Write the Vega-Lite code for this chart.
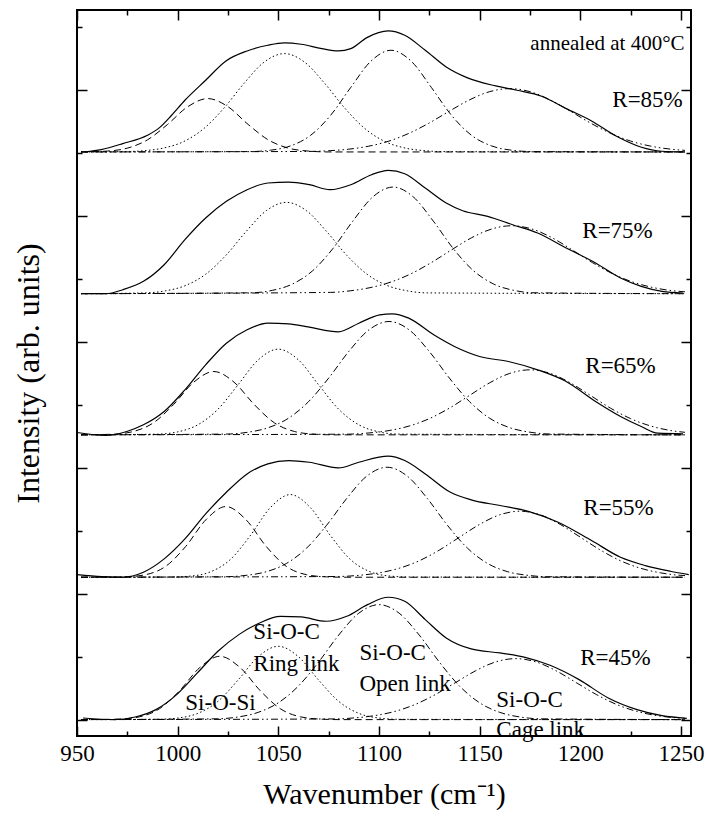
{
"$schema":"https://vega.github.io/schema/vega-lite/v6.json",
"width":614,"height":726,
"autosize":{"type":"none"},
"padding":{"left":77,"top":10,"right":20,"bottom":91},
"background":"white",
"config":{"view":{"stroke":"black","strokeWidth":2},"font":"Liberation Serif, Times New Roman, serif",
"axis":{"grid":false,"domain":false,"tickColor":"black","tickWidth":1.5,"labelFont":"Liberation Serif, Times New Roman, serif","titleFont":"Liberation Serif, Times New Roman, serif","labelColor":"black","titleColor":"black","titleFontWeight":"normal","labelFlush":false,"labelOverlap":false,"format":"d"}},
"datasets":{
"d":[
{"s":1,"c":"T","x":954,"y":90.1},{"s":1,"c":"T","x":962,"y":90.47},{"s":1,"c":"T","x":972.7,"y":91.42},{"s":1,"c":"T","x":985,"y":92.75},{"s":1,"c":"T","x":991,"y":93.96},{"s":1,"c":"T","x":997,"y":95.92},{"s":1,"c":"T","x":1003.6,"y":98.3},{"s":1,"c":"T","x":1013.9,"y":101.48},{"s":1,"c":"T","x":1024,"y":104.54},{"s":1,"c":"T","x":1034.5,"y":106.13},{"s":1,"c":"T","x":1044.8,"y":107.03},{"s":1,"c":"T","x":1053,"y":107.4},{"s":1,"c":"T","x":1061.3,"y":107.19},{"s":1,"c":"T","x":1071.6,"y":106.5},{"s":1,"c":"T","x":1079.8,"y":106.13},{"s":1,"c":"T","x":1086,"y":106.5},{"s":1,"c":"T","x":1094,"y":108.25},{"s":1,"c":"T","x":1104.6,"y":109.31},{"s":1,"c":"T","x":1112.8,"y":108.62},{"s":1,"c":"T","x":1123,"y":106.24},{"s":1,"c":"T","x":1133.4,"y":103.59},{"s":1,"c":"T","x":1143.7,"y":101.9},{"s":1,"c":"T","x":1158,"y":100.58},{"s":1,"c":"T","x":1168.5,"y":99.89},{"s":1,"c":"T","x":1180.8,"y":98.94},{"s":1,"c":"T","x":1193,"y":96.98},{"s":1,"c":"T","x":1205.6,"y":95.02},{"s":1,"c":"T","x":1218,"y":92.59},{"s":1,"c":"T","x":1230,"y":90.89},{"s":1,"c":"T","x":1240.6,"y":90.21},{"s":1,"c":"T","x":1251,"y":90.1},
{"s":1,"c":"A","x":952,"y":90.1},{"s":1,"c":"A","x":965,"y":90.24},{"s":1,"c":"A","x":975,"y":90.7},{"s":1,"c":"A","x":985,"y":92.02},{"s":1,"c":"A","x":995,"y":94.47},{"s":1,"c":"A","x":1005,"y":97.28},{"s":1,"c":"A","x":1015,"y":98.57},{"s":1,"c":"A","x":1025,"y":97.28},{"s":1,"c":"A","x":1035,"y":94.47},{"s":1,"c":"A","x":1045,"y":92.02},{"s":1,"c":"A","x":1055,"y":90.7},{"s":1,"c":"A","x":1065,"y":90.24},{"s":1,"c":"A","x":1075,"y":90.1},{"s":1,"c":"A","x":1252,"y":90.1},
{"s":1,"c":"B","x":952,"y":90.1},{"s":1,"c":"B","x":973,"y":90.15},{"s":1,"c":"B","x":983,"y":90.29},{"s":1,"c":"B","x":993,"y":90.72},{"s":1,"c":"B","x":1003,"y":91.75},{"s":1,"c":"B","x":1013,"y":93.81},{"s":1,"c":"B","x":1023,"y":97.06},{"s":1,"c":"B","x":1033,"y":101.0},{"s":1,"c":"B","x":1043,"y":104.37},{"s":1,"c":"B","x":1053,"y":105.71},{"s":1,"c":"B","x":1063,"y":104.37},{"s":1,"c":"B","x":1073,"y":101.0},{"s":1,"c":"B","x":1083,"y":97.06},{"s":1,"c":"B","x":1093,"y":93.81},{"s":1,"c":"B","x":1103,"y":91.75},{"s":1,"c":"B","x":1113,"y":90.72},{"s":1,"c":"B","x":1123,"y":90.29},{"s":1,"c":"B","x":1133,"y":90.15},{"s":1,"c":"B","x":1252,"y":90.1},
{"s":1,"c":"C","x":952,"y":90.1},{"s":1,"c":"C","x":1036,"y":90.16},{"s":1,"c":"C","x":1046,"y":90.37},{"s":1,"c":"C","x":1056,"y":91.05},{"s":1,"c":"C","x":1066,"y":92.73},{"s":1,"c":"C","x":1076,"y":95.92},{"s":1,"c":"C","x":1086,"y":100.35},{"s":1,"c":"C","x":1096,"y":104.51},{"s":1,"c":"C","x":1106,"y":106.24},{"s":1,"c":"C","x":1116,"y":104.51},{"s":1,"c":"C","x":1126,"y":100.35},{"s":1,"c":"C","x":1136,"y":95.92},{"s":1,"c":"C","x":1146,"y":92.73},{"s":1,"c":"C","x":1156,"y":91.05},{"s":1,"c":"C","x":1166,"y":90.37},{"s":1,"c":"C","x":1176,"y":90.16},{"s":1,"c":"C","x":1252,"y":90.1},
{"s":1,"c":"D","x":952,"y":90.1},{"s":1,"c":"D","x":1065,"y":90.18},{"s":1,"c":"D","x":1075,"y":90.29},{"s":1,"c":"D","x":1085,"y":90.54},{"s":1,"c":"D","x":1095,"y":91.02},{"s":1,"c":"D","x":1105,"y":91.83},{"s":1,"c":"D","x":1115,"y":93.07},{"s":1,"c":"D","x":1125,"y":94.7},{"s":1,"c":"D","x":1135,"y":96.58},{"s":1,"c":"D","x":1145,"y":98.37},{"s":1,"c":"D","x":1155,"y":99.67},{"s":1,"c":"D","x":1165,"y":100.15},{"s":1,"c":"D","x":1175,"y":99.67},{"s":1,"c":"D","x":1185,"y":98.37},{"s":1,"c":"D","x":1195,"y":96.58},{"s":1,"c":"D","x":1205,"y":94.7},{"s":1,"c":"D","x":1215,"y":93.07},{"s":1,"c":"D","x":1225,"y":91.83},{"s":1,"c":"D","x":1235,"y":91.02},{"s":1,"c":"D","x":1245,"y":90.54},{"s":1,"c":"D","x":1252,"y":90.35},
{"s":2,"c":"T","x":954,"y":67.6},{"s":2,"c":"T","x":964.5,"y":67.6},{"s":2,"c":"T","x":972.7,"y":68.23},{"s":2,"c":"T","x":983,"y":69.56},{"s":2,"c":"T","x":993.3,"y":72.2},{"s":2,"c":"T","x":1003.6,"y":76.17},{"s":2,"c":"T","x":1013.9,"y":79.61},{"s":2,"c":"T","x":1024.2,"y":82.26},{"s":2,"c":"T","x":1034.5,"y":84.11},{"s":2,"c":"T","x":1044.8,"y":85.17},{"s":2,"c":"T","x":1055.1,"y":85.32},{"s":2,"c":"T","x":1065.4,"y":84.9},{"s":2,"c":"T","x":1075.7,"y":84.11},{"s":2,"c":"T","x":1086,"y":84.9},{"s":2,"c":"T","x":1096.3,"y":86.49},{"s":2,"c":"T","x":1104.6,"y":87.18},{"s":2,"c":"T","x":1112.8,"y":86.65},{"s":2,"c":"T","x":1123,"y":84.37},{"s":2,"c":"T","x":1133.4,"y":81.99},{"s":2,"c":"T","x":1141.6,"y":80.77},{"s":2,"c":"T","x":1154,"y":79.88},{"s":2,"c":"T","x":1166.4,"y":78.55},{"s":2,"c":"T","x":1178.8,"y":77.23},{"s":2,"c":"T","x":1193,"y":74.85},{"s":2,"c":"T","x":1207.6,"y":72.47},{"s":2,"c":"T","x":1220,"y":70.09},{"s":2,"c":"T","x":1230.3,"y":68.76},{"s":2,"c":"T","x":1240.6,"y":67.97},{"s":2,"c":"T","x":1251,"y":67.71},
{"s":2,"c":"B","x":952,"y":67.6},{"s":2,"c":"B","x":984,"y":67.73},{"s":2,"c":"B","x":994,"y":68.06},{"s":2,"c":"B","x":1004,"y":68.91},{"s":2,"c":"B","x":1014,"y":70.71},{"s":2,"c":"B","x":1024,"y":73.7},{"s":2,"c":"B","x":1034,"y":77.47},{"s":2,"c":"B","x":1044,"y":80.77},{"s":2,"c":"B","x":1054,"y":82.1},{"s":2,"c":"B","x":1064,"y":80.77},{"s":2,"c":"B","x":1074,"y":77.47},{"s":2,"c":"B","x":1084,"y":73.7},{"s":2,"c":"B","x":1094,"y":70.71},{"s":2,"c":"B","x":1104,"y":68.91},{"s":2,"c":"B","x":1114,"y":68.06},{"s":2,"c":"B","x":1124,"y":67.73},{"s":2,"c":"B","x":1252,"y":67.6},
{"s":2,"c":"C","x":952,"y":67.6},{"s":2,"c":"C","x":1037,"y":67.75},{"s":2,"c":"C","x":1047,"y":68.13},{"s":2,"c":"C","x":1057,"y":69.13},{"s":2,"c":"C","x":1067,"y":71.23},{"s":2,"c":"C","x":1077,"y":74.72},{"s":2,"c":"C","x":1087,"y":79.12},{"s":2,"c":"C","x":1097,"y":82.98},{"s":2,"c":"C","x":1107,"y":84.53},{"s":2,"c":"C","x":1117,"y":82.98},{"s":2,"c":"C","x":1127,"y":79.12},{"s":2,"c":"C","x":1137,"y":74.72},{"s":2,"c":"C","x":1147,"y":71.23},{"s":2,"c":"C","x":1157,"y":69.13},{"s":2,"c":"C","x":1167,"y":68.13},{"s":2,"c":"C","x":1177,"y":67.75},{"s":2,"c":"C","x":1252,"y":67.6},
{"s":2,"c":"D","x":952,"y":67.6},{"s":2,"c":"D","x":1076,"y":67.81},{"s":2,"c":"D","x":1086,"y":68.07},{"s":2,"c":"D","x":1096,"y":68.59},{"s":2,"c":"D","x":1106,"y":69.46},{"s":2,"c":"D","x":1116,"y":70.78},{"s":2,"c":"D","x":1126,"y":72.54},{"s":2,"c":"D","x":1136,"y":74.55},{"s":2,"c":"D","x":1146,"y":76.48},{"s":2,"c":"D","x":1156,"y":77.87},{"s":2,"c":"D","x":1166,"y":78.39},{"s":2,"c":"D","x":1176,"y":77.87},{"s":2,"c":"D","x":1186,"y":76.48},{"s":2,"c":"D","x":1196,"y":74.55},{"s":2,"c":"D","x":1206,"y":72.54},{"s":2,"c":"D","x":1216,"y":70.78},{"s":2,"c":"D","x":1226,"y":69.46},{"s":2,"c":"D","x":1236,"y":68.59},{"s":2,"c":"D","x":1246,"y":68.07},{"s":2,"c":"D","x":1252,"y":67.9},
{"s":3,"c":"T","x":950,"y":45.57},{"s":3,"c":"T","x":964.4,"y":45.1},{"s":3,"c":"T","x":974.7,"y":45.73},{"s":3,"c":"T","x":983,"y":46.79},{"s":3,"c":"T","x":993.3,"y":48.9},{"s":3,"c":"T","x":1003.6,"y":52.34},{"s":3,"c":"T","x":1013.9,"y":56.31},{"s":3,"c":"T","x":1024.2,"y":59.75},{"s":3,"c":"T","x":1034.5,"y":61.87},{"s":3,"c":"T","x":1044.8,"y":62.92},{"s":3,"c":"T","x":1055.1,"y":62.82},{"s":3,"c":"T","x":1065.4,"y":62.29},{"s":3,"c":"T","x":1079.8,"y":61.55},{"s":3,"c":"T","x":1090,"y":62.92},{"s":3,"c":"T","x":1100.4,"y":64.25},{"s":3,"c":"T","x":1106.6,"y":64.41},{"s":3,"c":"T","x":1114.8,"y":63.72},{"s":3,"c":"T","x":1127.2,"y":61.07},{"s":3,"c":"T","x":1137.5,"y":59.22},{"s":3,"c":"T","x":1150,"y":57.63},{"s":3,"c":"T","x":1164.3,"y":56.84},{"s":3,"c":"T","x":1178.8,"y":55.52},{"s":3,"c":"T","x":1193,"y":53.67},{"s":3,"c":"T","x":1207.6,"y":50.49},{"s":3,"c":"T","x":1220,"y":48.11},{"s":3,"c":"T","x":1230.3,"y":46.52},{"s":3,"c":"T","x":1238.5,"y":45.46},{"s":3,"c":"T","x":1251,"y":45.36},
{"s":3,"c":"A","x":952,"y":45.2},{"s":3,"c":"A","x":968,"y":45.3},{"s":3,"c":"A","x":978,"y":45.73},{"s":3,"c":"A","x":988,"y":47.12},{"s":3,"c":"A","x":998,"y":50.02},{"s":3,"c":"A","x":1008,"y":53.56},{"s":3,"c":"A","x":1018,"y":55.25},{"s":3,"c":"A","x":1028,"y":53.56},{"s":3,"c":"A","x":1038,"y":50.02},{"s":3,"c":"A","x":1048,"y":47.12},{"s":3,"c":"A","x":1058,"y":45.73},{"s":3,"c":"A","x":1068,"y":45.3},{"s":3,"c":"A","x":1078,"y":45.2},{"s":3,"c":"A","x":1252,"y":45.2},
{"s":3,"c":"B","x":952,"y":45.2},{"s":3,"c":"B","x":990,"y":45.31},{"s":3,"c":"B","x":1000,"y":45.67},{"s":3,"c":"B","x":1010,"y":46.79},{"s":3,"c":"B","x":1020,"y":49.26},{"s":3,"c":"B","x":1030,"y":53.15},{"s":3,"c":"B","x":1040,"y":57.09},{"s":3,"c":"B","x":1050,"y":58.8},{"s":3,"c":"B","x":1060,"y":57.09},{"s":3,"c":"B","x":1070,"y":53.15},{"s":3,"c":"B","x":1080,"y":49.26},{"s":3,"c":"B","x":1090,"y":46.79},{"s":3,"c":"B","x":1100,"y":45.67},{"s":3,"c":"B","x":1110,"y":45.31},{"s":3,"c":"B","x":1252,"y":45.2},
{"s":3,"c":"C","x":952,"y":45.2},{"s":3,"c":"C","x":1025,"y":45.33},{"s":3,"c":"C","x":1035,"y":45.62},{"s":3,"c":"C","x":1045,"y":46.33},{"s":3,"c":"C","x":1055,"y":47.83},{"s":3,"c":"C","x":1065,"y":50.46},{"s":3,"c":"C","x":1075,"y":54.2},{"s":3,"c":"C","x":1085,"y":58.43},{"s":3,"c":"C","x":1095,"y":61.86},{"s":3,"c":"C","x":1105,"y":63.19},{"s":3,"c":"C","x":1115,"y":61.86},{"s":3,"c":"C","x":1125,"y":58.43},{"s":3,"c":"C","x":1135,"y":54.2},{"s":3,"c":"C","x":1145,"y":50.46},{"s":3,"c":"C","x":1155,"y":47.83},{"s":3,"c":"C","x":1165,"y":46.33},{"s":3,"c":"C","x":1175,"y":45.62},{"s":3,"c":"C","x":1185,"y":45.33},{"s":3,"c":"C","x":1252,"y":45.2},
{"s":3,"c":"D","x":952,"y":45.2},{"s":3,"c":"D","x":1085,"y":45.31},{"s":3,"c":"D","x":1095,"y":45.5},{"s":3,"c":"D","x":1105,"y":45.88},{"s":3,"c":"D","x":1115,"y":46.6},{"s":3,"c":"D","x":1125,"y":47.77},{"s":3,"c":"D","x":1135,"y":49.44},{"s":3,"c":"D","x":1145,"y":51.46},{"s":3,"c":"D","x":1155,"y":53.46},{"s":3,"c":"D","x":1165,"y":54.96},{"s":3,"c":"D","x":1175,"y":55.52},{"s":3,"c":"D","x":1185,"y":54.96},{"s":3,"c":"D","x":1195,"y":53.46},{"s":3,"c":"D","x":1205,"y":51.46},{"s":3,"c":"D","x":1215,"y":49.44},{"s":3,"c":"D","x":1225,"y":47.77},{"s":3,"c":"D","x":1235,"y":46.6},{"s":3,"c":"D","x":1245,"y":45.88},{"s":3,"c":"D","x":1252,"y":45.6},
{"s":4,"c":"T","x":950,"y":23.02},{"s":4,"c":"T","x":962.4,"y":22.71},{"s":4,"c":"T","x":972.7,"y":22.6},{"s":4,"c":"T","x":983,"y":23.39},{"s":4,"c":"T","x":993.3,"y":25.51},{"s":4,"c":"T","x":1003.6,"y":28.68},{"s":4,"c":"T","x":1013.9,"y":32.65},{"s":4,"c":"T","x":1024.2,"y":36.09},{"s":4,"c":"T","x":1034.5,"y":39.0},{"s":4,"c":"T","x":1044.8,"y":40.59},{"s":4,"c":"T","x":1055.1,"y":41.12},{"s":4,"c":"T","x":1065.4,"y":40.85},{"s":4,"c":"T","x":1079.8,"y":39.95},{"s":4,"c":"T","x":1090,"y":40.85},{"s":4,"c":"T","x":1104.6,"y":41.81},{"s":4,"c":"T","x":1112.8,"y":41.12},{"s":4,"c":"T","x":1123,"y":39.0},{"s":4,"c":"T","x":1135.5,"y":36.09},{"s":4,"c":"T","x":1145.8,"y":34.88},{"s":4,"c":"T","x":1160.2,"y":33.98},{"s":4,"c":"T","x":1174.6,"y":33.02},{"s":4,"c":"T","x":1189,"y":31.33},{"s":4,"c":"T","x":1205.6,"y":28.42},{"s":4,"c":"T","x":1220,"y":25.77},{"s":4,"c":"T","x":1232.3,"y":24.45},{"s":4,"c":"T","x":1244.7,"y":23.55},{"s":4,"c":"T","x":1253.9,"y":23.02},
{"s":4,"c":"A","x":952,"y":22.6},{"s":4,"c":"A","x":974,"y":22.66},{"s":4,"c":"A","x":984,"y":23.0},{"s":4,"c":"A","x":994,"y":24.32},{"s":4,"c":"A","x":1004,"y":27.48},{"s":4,"c":"A","x":1014,"y":31.71},{"s":4,"c":"A","x":1024,"y":33.82},{"s":4,"c":"A","x":1034,"y":31.71},{"s":4,"c":"A","x":1044,"y":27.48},{"s":4,"c":"A","x":1054,"y":24.32},{"s":4,"c":"A","x":1064,"y":23.0},{"s":4,"c":"A","x":1074,"y":22.66},{"s":4,"c":"A","x":1084,"y":22.6},{"s":4,"c":"A","x":1252,"y":22.6},
{"s":4,"c":"B","x":952,"y":22.6},{"s":4,"c":"B","x":996,"y":22.63},{"s":4,"c":"B","x":1006,"y":22.77},{"s":4,"c":"B","x":1016,"y":23.42},{"s":4,"c":"B","x":1026,"y":25.36},{"s":4,"c":"B","x":1036,"y":29.17},{"s":4,"c":"B","x":1046,"y":33.63},{"s":4,"c":"B","x":1056,"y":35.72},{"s":4,"c":"B","x":1066,"y":33.63},{"s":4,"c":"B","x":1076,"y":29.17},{"s":4,"c":"B","x":1086,"y":25.36},{"s":4,"c":"B","x":1096,"y":23.42},{"s":4,"c":"B","x":1106,"y":22.77},{"s":4,"c":"B","x":1116,"y":22.63},{"s":4,"c":"B","x":1252,"y":22.6},
{"s":4,"c":"C","x":952,"y":22.6},{"s":4,"c":"C","x":1024,"y":22.68},{"s":4,"c":"C","x":1034,"y":22.9},{"s":4,"c":"C","x":1044,"y":23.47},{"s":4,"c":"C","x":1054,"y":24.78},{"s":4,"c":"C","x":1064,"y":27.2},{"s":4,"c":"C","x":1074,"y":30.85},{"s":4,"c":"C","x":1084,"y":35.11},{"s":4,"c":"C","x":1094,"y":38.66},{"s":4,"c":"C","x":1104,"y":40.06},{"s":4,"c":"C","x":1114,"y":38.66},{"s":4,"c":"C","x":1124,"y":35.11},{"s":4,"c":"C","x":1134,"y":30.85},{"s":4,"c":"C","x":1144,"y":27.2},{"s":4,"c":"C","x":1154,"y":24.78},{"s":4,"c":"C","x":1164,"y":23.47},{"s":4,"c":"C","x":1174,"y":22.9},{"s":4,"c":"C","x":1184,"y":22.68},{"s":4,"c":"C","x":1252,"y":22.6},
{"s":4,"c":"D","x":952,"y":22.6},{"s":4,"c":"D","x":1080,"y":22.72},{"s":4,"c":"D","x":1090,"y":22.9},{"s":4,"c":"D","x":1100,"y":23.29},{"s":4,"c":"D","x":1110,"y":24.02},{"s":4,"c":"D","x":1120,"y":25.21},{"s":4,"c":"D","x":1130,"y":26.91},{"s":4,"c":"D","x":1140,"y":28.96},{"s":4,"c":"D","x":1150,"y":30.99},{"s":4,"c":"D","x":1160,"y":32.51},{"s":4,"c":"D","x":1170,"y":33.08},{"s":4,"c":"D","x":1180,"y":32.51},{"s":4,"c":"D","x":1190,"y":30.99},{"s":4,"c":"D","x":1200,"y":28.96},{"s":4,"c":"D","x":1210,"y":26.91},{"s":4,"c":"D","x":1220,"y":25.21},{"s":4,"c":"D","x":1230,"y":24.02},{"s":4,"c":"D","x":1240,"y":23.29},{"s":4,"c":"D","x":1250,"y":22.9},{"s":4,"c":"D","x":1252,"y":22.87},
{"s":5,"c":"T","x":953,"y":0.26},{"s":5,"c":"T","x":968.5,"y":0},{"s":5,"c":"T","x":978.9,"y":0.42},{"s":5,"c":"T","x":989.2,"y":1.59},{"s":5,"c":"T","x":999.5,"y":3.97},{"s":5,"c":"T","x":1009.8,"y":7.41},{"s":5,"c":"T","x":1020,"y":10.85},{"s":5,"c":"T","x":1030.4,"y":13.49},{"s":5,"c":"T","x":1040.7,"y":15.34},{"s":5,"c":"T","x":1051,"y":16.4},{"s":5,"c":"T","x":1061.3,"y":16.3},{"s":5,"c":"T","x":1073.7,"y":15.61},{"s":5,"c":"T","x":1084,"y":16.4},{"s":5,"c":"T","x":1094.3,"y":18.25},{"s":5,"c":"T","x":1104.6,"y":19.42},{"s":5,"c":"T","x":1112.8,"y":18.78},{"s":5,"c":"T","x":1123,"y":15.87},{"s":5,"c":"T","x":1133.4,"y":12.96},{"s":5,"c":"T","x":1145.8,"y":11.22},{"s":5,"c":"T","x":1160.2,"y":10.58},{"s":5,"c":"T","x":1172.6,"y":9.89},{"s":5,"c":"T","x":1185,"y":8.62},{"s":5,"c":"T","x":1199.4,"y":6.35},{"s":5,"c":"T","x":1213.9,"y":3.44},{"s":5,"c":"T","x":1228.2,"y":1.59},{"s":5,"c":"T","x":1240.6,"y":0.63},{"s":5,"c":"T","x":1252.9,"y":0.21},
{"s":5,"c":"A","x":952,"y":0},{"s":5,"c":"A","x":971,"y":0.08},{"s":5,"c":"A","x":981,"y":0.44},{"s":5,"c":"A","x":991,"y":1.73},{"s":5,"c":"A","x":1001,"y":4.6},{"s":5,"c":"A","x":1011,"y":8.27},{"s":5,"c":"A","x":1021,"y":10.05},{"s":5,"c":"A","x":1031,"y":8.27},{"s":5,"c":"A","x":1041,"y":4.6},{"s":5,"c":"A","x":1051,"y":1.73},{"s":5,"c":"A","x":1061,"y":0.44},{"s":5,"c":"A","x":1071,"y":0.08},{"s":5,"c":"A","x":1081,"y":0},{"s":5,"c":"A","x":1252,"y":0},
{"s":5,"c":"B","x":952,"y":0},{"s":5,"c":"B","x":990,"y":0.05},{"s":5,"c":"B","x":1000,"y":0.25},{"s":5,"c":"B","x":1010,"y":0.99},{"s":5,"c":"B","x":1020,"y":2.9},{"s":5,"c":"B","x":1030,"y":6.28},{"s":5,"c":"B","x":1040,"y":9.98},{"s":5,"c":"B","x":1050,"y":11.64},{"s":5,"c":"B","x":1060,"y":9.98},{"s":5,"c":"B","x":1070,"y":6.28},{"s":5,"c":"B","x":1080,"y":2.9},{"s":5,"c":"B","x":1090,"y":0.99},{"s":5,"c":"B","x":1100,"y":0.25},{"s":5,"c":"B","x":1110,"y":0.05},{"s":5,"c":"B","x":1252,"y":0},
{"s":5,"c":"C","x":952,"y":0},{"s":5,"c":"C","x":1020,"y":0.13},{"s":5,"c":"C","x":1030,"y":0.42},{"s":5,"c":"C","x":1040,"y":1.15},{"s":5,"c":"C","x":1050,"y":2.67},{"s":5,"c":"C","x":1060,"y":5.33},{"s":5,"c":"C","x":1070,"y":9.13},{"s":5,"c":"C","x":1080,"y":13.42},{"s":5,"c":"C","x":1090,"y":16.9},{"s":5,"c":"C","x":1100,"y":18.25},{"s":5,"c":"C","x":1110,"y":16.9},{"s":5,"c":"C","x":1120,"y":13.42},{"s":5,"c":"C","x":1130,"y":9.13},{"s":5,"c":"C","x":1140,"y":5.33},{"s":5,"c":"C","x":1150,"y":2.67},{"s":5,"c":"C","x":1160,"y":1.15},{"s":5,"c":"C","x":1170,"y":0.42},{"s":5,"c":"C","x":1180,"y":0.13},{"s":5,"c":"C","x":1252,"y":0},
{"s":5,"c":"D","x":952,"y":0},{"s":5,"c":"D","x":1078,"y":0.11},{"s":5,"c":"D","x":1088,"y":0.28},{"s":5,"c":"D","x":1098,"y":0.64},{"s":5,"c":"D","x":1108,"y":1.31},{"s":5,"c":"D","x":1118,"y":2.41},{"s":5,"c":"D","x":1128,"y":3.98},{"s":5,"c":"D","x":1138,"y":5.87},{"s":5,"c":"D","x":1148,"y":7.75},{"s":5,"c":"D","x":1158,"y":9.16},{"s":5,"c":"D","x":1168,"y":9.68},{"s":5,"c":"D","x":1178,"y":9.16},{"s":5,"c":"D","x":1188,"y":7.75},{"s":5,"c":"D","x":1198,"y":5.87},{"s":5,"c":"D","x":1208,"y":3.98},{"s":5,"c":"D","x":1218,"y":2.41},{"s":5,"c":"D","x":1228,"y":1.31},{"s":5,"c":"D","x":1238,"y":0.64},{"s":5,"c":"D","x":1248,"y":0.28},{"s":5,"c":"D","x":1252,"y":0.2}
],
"t":[
{"k":"h","x":1175.2,"y":107.2,"text":"annealed at 400°C"},
{"k":"r","x":1215.9,"y":98.3,"text":"R=85%"},
{"k":"r","x":1201,"y":77.5,"text":"R=75%"},
{"k":"r","x":1202.5,"y":56.1,"text":"R=65%"},
{"k":"r","x":1201.5,"y":33.6,"text":"R=55%"},
{"k":"r","x":1200,"y":9.8,"text":"R=45%"},
{"k":"r","x":1003.8,"y":2.6,"text":"Si-O-Si"},
{"k":"r","x":1037.6,"y":13.9,"text":"Si-O-C"},
{"k":"r","x":1037.6,"y":8.8,"text":"Ring link"},
{"k":"r","x":1090.3,"y":10.6,"text":"Si-O-C"},
{"k":"r","x":1090.3,"y":5.6,"text":"Open link"},
{"k":"r","x":1158.3,"y":3.1,"text":"Si-O-C"},
{"k":"r","x":1158.3,"y":-1.65,"text":"Cage link"}
]},
"layer":[
{"data":{"name":"d"},"transform":[{"filter":"datum.c=='T'"}],
"mark":{"type":"line","color":"black","strokeWidth":1.2,"interpolate":"monotone"},
"encoding":{
"x":{"field":"x","type":"quantitative","scale":{"domain":[950,1255],"nice":false,"zero":false},
"axis":{"orient":"bottom","values":[950,1000,1050,1100,1150,1200,1250],"format":"d","tickSize":-10,"labelPadding":16,"labelFontSize":23,"title":"Wavenumber (cm⁻¹)","titleFontSize":30,"titlePadding":14}},
"y":{"field":"y","type":"quantitative","scale":{"domain":[-2.6,112.63],"nice":false,"zero":false},
"axis":{"orient":"left","values":[0,20,40,60,80,100],"tickSize":-10,"labels":false,"title":"Intensity (arb. units)","titleFontSize":32,"titlePadding":31}},
"detail":{"field":"s"}}},
{"data":{"name":"d"},"transform":[{"filter":"datum.c=='A'"}],
"mark":{"type":"line","color":"black","strokeWidth":1,"strokeDash":[7,4],"interpolate":"monotone"},
"encoding":{
"x":{"field":"x","type":"quantitative","scale":{"domain":[950,1255],"nice":false,"zero":false},
"axis":{"orient":"bottom","values":[975,1025,1075,1125,1175,1225],"tickSize":-5,"labels":false,"title":null}},
"y":{"field":"y","type":"quantitative","scale":{"domain":[-2.6,112.63],"nice":false,"zero":false},
"axis":{"orient":"left","values":[10,30,50,70,90,110],"tickSize":-5,"labels":false,"title":null}},
"detail":{"field":"s"}}},
{"data":{"name":"d"},"transform":[{"filter":"datum.c=='B'"}],
"mark":{"type":"line","color":"black","strokeWidth":1,"strokeDash":[1.5,2.5],"interpolate":"monotone"},
"encoding":{
"x":{"field":"x","type":"quantitative","scale":{"domain":[950,1255],"nice":false,"zero":false},
"axis":{"orient":"top","values":[950,1000,1050,1100,1150,1200,1250],"tickSize":-10,"labels":false,"title":null}},
"y":{"field":"y","type":"quantitative","scale":{"domain":[-2.6,112.63],"nice":false,"zero":false},
"axis":{"orient":"right","values":[0,20,40,60,80,100],"tickSize":-10,"labels":false,"title":null}},
"detail":{"field":"s"}}},
{"data":{"name":"d"},"transform":[{"filter":"datum.c=='C'"}],
"mark":{"type":"line","color":"black","strokeWidth":1,"strokeDash":[7,3,1.5,3],"interpolate":"monotone"},
"encoding":{
"x":{"field":"x","type":"quantitative","scale":{"domain":[950,1255],"nice":false,"zero":false},
"axis":{"orient":"top","values":[975,1025,1075,1125,1175,1225],"tickSize":-5,"labels":false,"title":null}},
"y":{"field":"y","type":"quantitative","scale":{"domain":[-2.6,112.63],"nice":false,"zero":false},
"axis":{"orient":"right","values":[10,30,50,70,90,110],"tickSize":-5,"labels":false,"title":null}},
"detail":{"field":"s"}}},
{"data":{"name":"d"},"transform":[{"filter":"datum.c=='D'"}],
"mark":{"type":"line","color":"black","strokeWidth":1,"strokeDash":[7,3,1.5,3,1.5,3],"interpolate":"monotone"},
"encoding":{
"x":{"field":"x","type":"quantitative","axis":null},
"y":{"field":"y","type":"quantitative","axis":null},
"detail":{"field":"s"}}},
{"data":{"name":"t"},"transform":[{"filter":"datum.k=='h'"}],
"mark":{"type":"text","align":"left","baseline":"middle","fontSize":21,"font":"Liberation Serif, Times New Roman, serif","color":"black"},
"encoding":{"x":{"field":"x","type":"quantitative","axis":null},"y":{"field":"y","type":"quantitative","axis":null},"text":{"field":"text"}}},
{"data":{"name":"t"},"transform":[{"filter":"datum.k=='r'"}],
"mark":{"type":"text","align":"left","baseline":"middle","fontSize":23,"font":"Liberation Serif, Times New Roman, serif","color":"black"},
"encoding":{"x":{"field":"x","type":"quantitative","axis":null},"y":{"field":"y","type":"quantitative","axis":null},"text":{"field":"text"}}}
],
"resolve":{"axis":{"x":"independent","y":"independent"}}
}
